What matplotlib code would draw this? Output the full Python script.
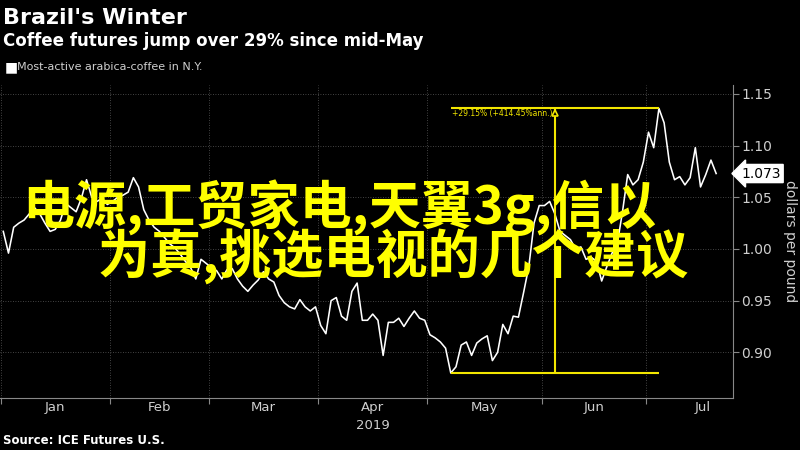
import numpy as np
import pandas as pd
import matplotlib
matplotlib.use("Agg")
import matplotlib.pyplot as plt
from matplotlib import transforms

# most-active arabica coffee, dollars per pound, one value per trading day
price = [
    1.017, 0.996, 1.021, 1.025, 1.028, 1.034, 1.040, 1.034, 1.025, 1.017,
    1.019, 1.028, 1.044, 1.040, 1.036, 1.049, 1.067, 1.050, 1.046, 1.049,
    1.043, 1.046, 1.050, 1.052, 1.055, 1.069, 1.060, 1.038, 1.028, 1.021,
    1.017, 1.011, 1.005, 1.001, 0.995, 0.988, 0.982, 0.971, 0.990, 0.986,
    0.982, 0.979, 0.971, 0.980, 0.981, 0.971, 0.964, 0.959, 0.965, 0.970,
    0.978, 0.971, 0.968, 0.955, 0.948, 0.944, 0.942, 0.951, 0.944, 0.940,
    0.944, 0.926, 0.918, 0.950, 0.953, 0.935, 0.931, 0.959, 0.967, 0.931,
    0.931, 0.937, 0.931, 0.897, 0.929, 0.929, 0.933, 0.925, 0.933, 0.940,
    0.933, 0.931, 0.917, 0.914, 0.910, 0.904, 0.880, 0.886, 0.907, 0.910,
    0.897, 0.909, 0.913, 0.916, 0.892, 0.900, 0.927, 0.918, 0.935, 0.934,
    0.958, 0.983, 1.025, 1.042, 1.042, 1.046, 1.034, 1.017, 1.013, 1.009,
    1.000, 1.002, 0.990, 0.992, 0.988, 0.969, 0.983, 0.996, 1.005, 1.036,
    1.072, 1.062, 1.067, 1.084, 1.113, 1.098, 1.136, 1.122, 1.084, 1.067,
    1.070, 1.062, 1.069, 1.098, 1.060, 1.072, 1.086, 1.073,
]
holidays = ["2019-01-21", "2019-02-18", "2019-04-19", "2019-05-27", "2019-07-04"]
yticks = [0.90, 0.95, 1.00, 1.05, 1.10, 1.15]
change_label = "+29.15% (+414.45%ann.)"
last_label = "1.073"
overlay = "电源,工贸家电,天翼3g,信以\n\u3000  为真,挑选电视的几个建议"

cal = pd.bdate_range("2019-01-02", "2019-07-31", freq="C", holidays=holidays)
x = np.arange(len(price))

YELLOW = "#f2e600"
GREY = "#cfcfcf"

fig = plt.figure(figsize=(8, 4.5), dpi=100, facecolor="black")
ax = fig.add_axes([0, 0.116, 0.916, 0.695])
ax.set_facecolor("black")

ax.plot(x, price, color="white", lw=1.15, zorder=3)

# month boundaries and centres on the trading-day axis
months = cal.to_period("M")
starts = [i for i in range(len(cal)) if i == 0 or months[i] != months[i - 1]]
bounds = [s - 0.5 for s in starts]
ends = bounds[1:] + [len(cal) - 0.5]
centres = [(a + b) / 2 for a, b in zip(bounds, ends)]
names = [cal[s].strftime("%b") for s in starts]

ax.set_xticks(bounds)
ax.set_xticklabels([])
ax.set_xticks(centres, minor=True)
ax.set_xticklabels(names, minor=True)
ax.tick_params(axis="x", which="major", length=4, color="#888888", direction="out")
ax.tick_params(axis="x", which="minor", length=0, labelcolor=GREY, labelsize=9.5, pad=2)

ax.yaxis.tick_right()
ax.set_yticks(yticks)
ax.set_yticklabels([f"{v:.2f}" for v in yticks])
ax.tick_params(axis="y", length=4, color="#888888", labelcolor=GREY, labelsize=10, pad=2)

ax.set_xlim(-0.63, 140.2)
ax.set_ylim(0.856, 1.1586)
ax.grid(True, which="major", color="#5a5a5a", ls=(0, (1, 2)), lw=0.6)

for s in ["left", "top"]:
    ax.spines[s].set_visible(False)
for s in ["right", "bottom"]:
    ax.spines[s].set_color("#888888")

apr = names.index("Apr")
ax.text(centres[apr], -0.087, "2019", transform=transforms.blended_transform_factory(ax.transData, ax.transAxes),
        ha="center", va="center", color=GREY, fontsize=9.5)

# change annotation from low to high
lo = int(np.argmin(price))
hi = int(np.argmax(price))
mid = (lo + hi) / 2
ax.hlines([price[lo], price[hi]], lo, hi, color=YELLOW, lw=1.5, zorder=4)
ax.vlines(mid, price[lo], price[hi], color=YELLOW, lw=1.5, zorder=4)
ax.plot([mid], [price[hi] - 0.004], marker="^", ms=5, mfc="black", mec=YELLOW, mew=1.2, zorder=5)
ax.text(lo + 0.3, price[hi] - 0.0045, change_label, color=YELLOW, fontsize=5.5, va="center", ha="left", zorder=5)

# last value tag
ax.text(1.012, price[-1], last_label, transform=transforms.blended_transform_factory(ax.transAxes, ax.transData),
        ha="left", va="center", color="black", fontsize=10,
        bbox=dict(boxstyle="larrow,pad=0.15", fc="white", ec="white"))

fig.text(0.988, 1 - 241 / 450, "dollars per pound", rotation=270, ha="center", va="center",
         color=GREY, fontsize=10)

# header and footer
fig.text(0.004, 1 - 18 / 450, "Brazil's Winter", color="white", fontsize=16, weight="bold", va="center")
fig.text(0.004, 1 - 41 / 450, "Coffee futures jump over 29% since mid-May", color="white",
         fontsize=12, weight="bold", va="center")
fig.text(0.006, 1 - 67 / 450, "\u25A0", color="white", fontsize=10, va="center")
fig.text(0.021, 1 - 67 / 450, "Most-active arabica-coffee in N.Y.", color=GREY, fontsize=8, va="center")
fig.text(0.004, 1 - 440 / 450, "Source: ICE Futures U.S.", color="white", fontsize=8.5, weight="bold", va="center")

cjk = ["Noto Sans CJK SC", "DejaVu Sans"]
fig.text(22 / 800, 1 - 232 / 450, overlay, family=cjk, weight="bold", fontsize=37.5,
         color="#ffff00", va="center", ha="left", multialignment="left", linespacing=0.85, zorder=10)

fig.savefig("out.png", dpi=100, facecolor="black")
